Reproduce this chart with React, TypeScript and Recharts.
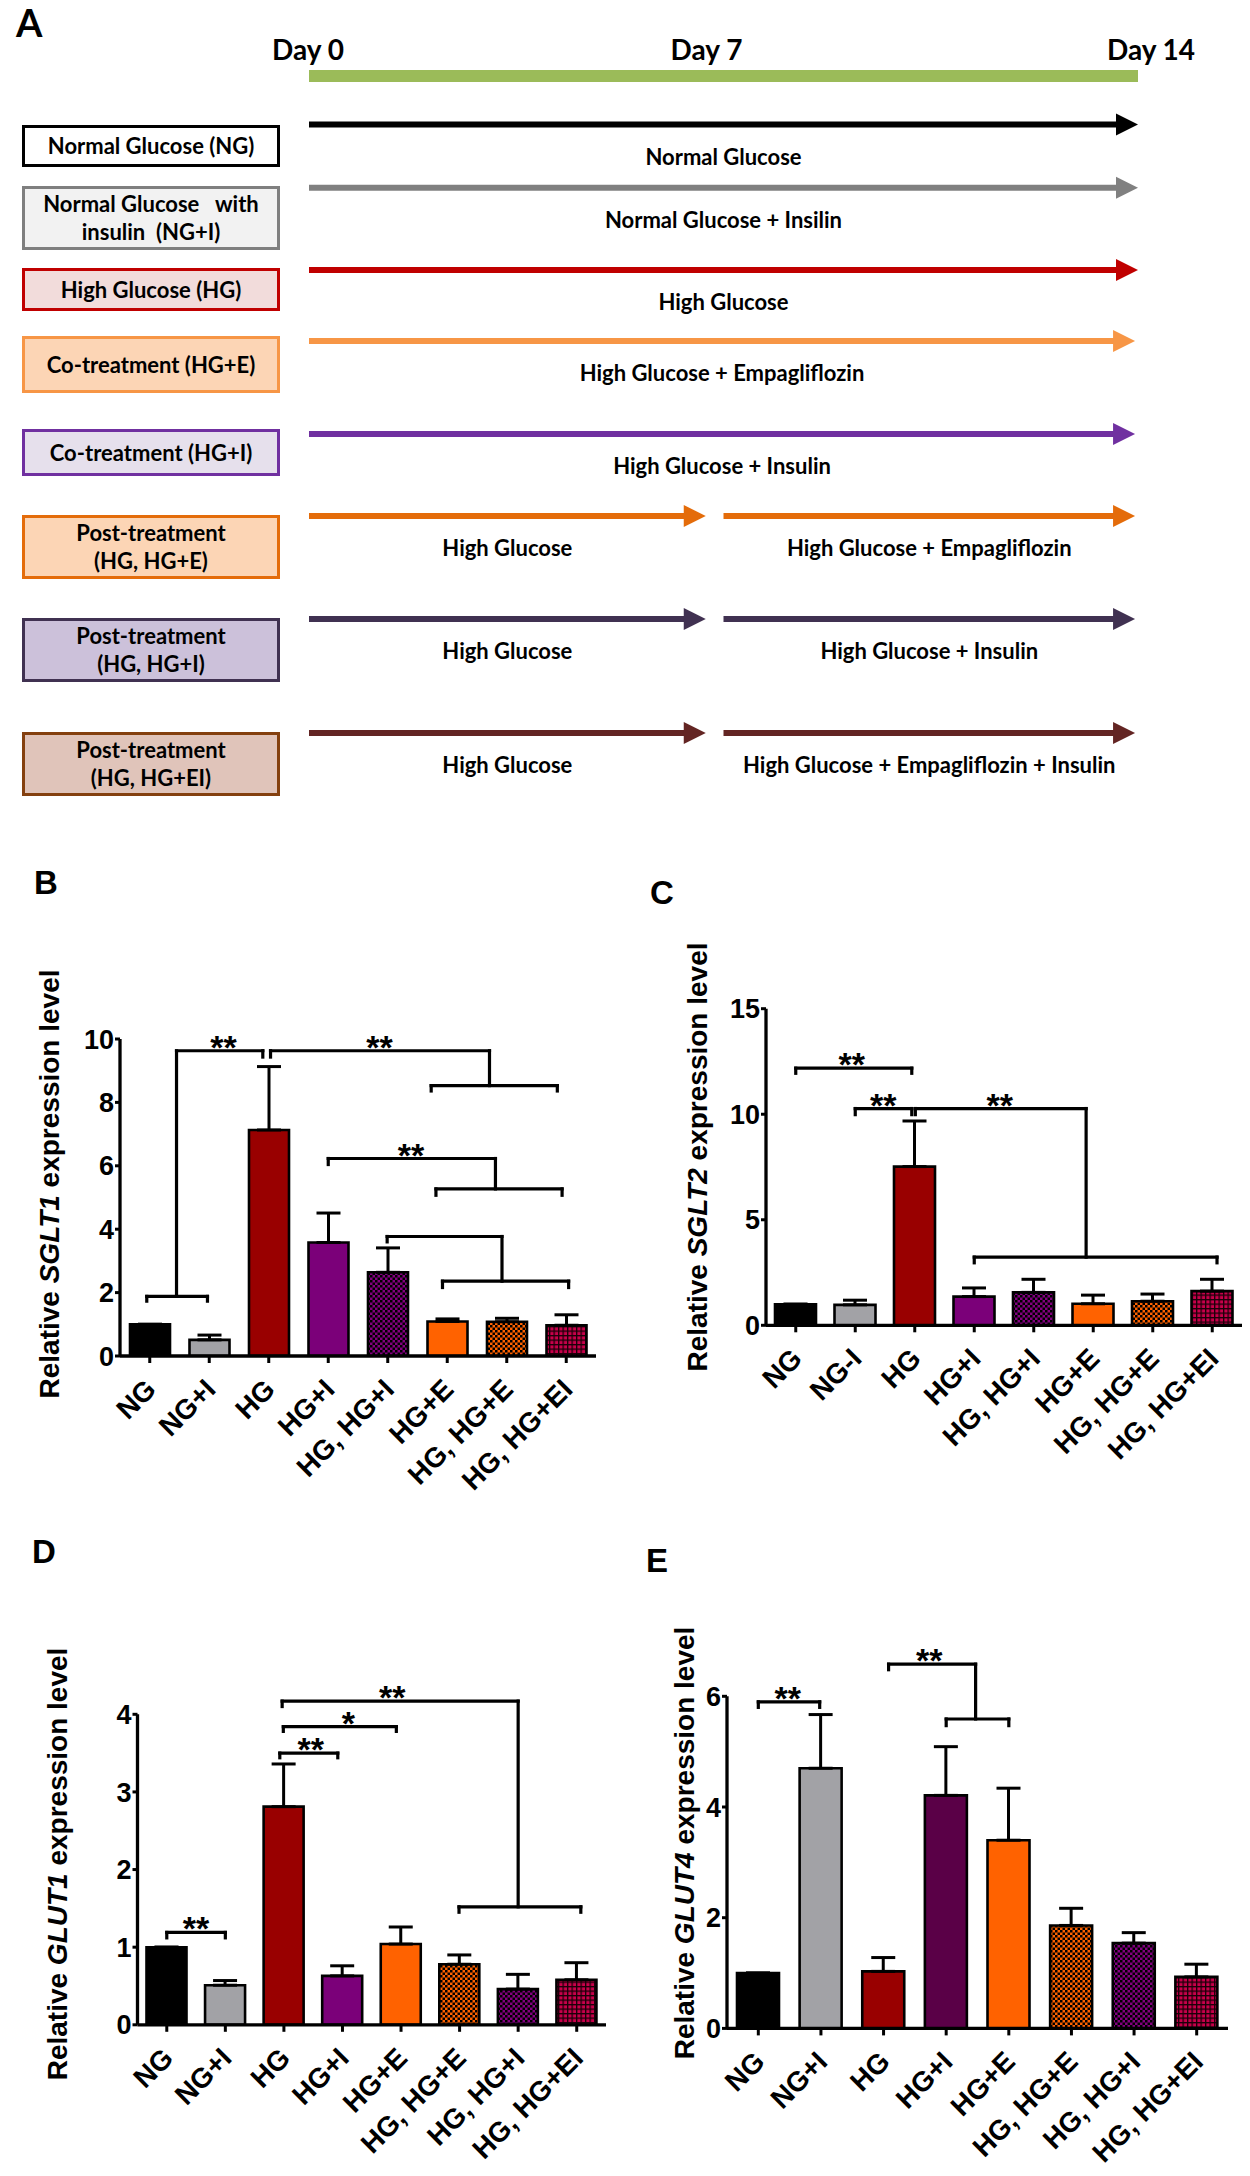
import {
  Bar,
  Cell,
  ComposedChart,
  ErrorBar,
  ReferenceDot,
  ReferenceLine,
  XAxis,
  YAxis,
} from 'recharts'

const ARIAL = '"Liberation Sans", Arial, Helvetica, sans-serif'
const CALIBRI = 'Lato, "Open Sans", "DejaVu Sans", sans-serif'

// ---------- A: treatment schedule ----------
const scheduleDays = [0, 7, 14]

const groupLabels = [
  'Normal Glucose (NG)',
  'Normal Glucose   with\ninsulin  (NG+I)',
  'High Glucose (HG)',
  'Co-treatment (HG+E)',
  'Co-treatment (HG+I)',
  'Post-treatment\n(HG, HG+E)',
  'Post-treatment\n(HG, HG+I)',
  'Post-treatment\n(HG, HG+EI)',
]

const phaseStart = [[0], [0], [0], [0], [0], [0, 7], [0, 7], [0, 7]]
const phaseEnd = [[14], [14], [14], [13.95], [13.95], [6.7, 13.95], [6.7, 13.95], [6.7, 13.95]]
const phaseText = [
  ['Normal Glucose'],
  ['Normal Glucose + Insilin'],
  ['High Glucose'],
  ['High Glucose + Empagliflozin'],
  ['High Glucose + Insulin'],
  ['High Glucose', 'High Glucose + Empagliflozin'],
  ['High Glucose', 'High Glucose + Insulin'],
  ['High Glucose', 'High Glucose + Empagliflozin + Insulin'],
]

// schedule layout (px)
const dayLabelNudge = [-1, -17, 13]
const rowArrowY = [124.6, 187.7, 270, 341, 434, 516, 619, 733]
const rowBoxTop = [124.6, 186, 268, 336, 429, 515, 618, 732]
const rowBoxHeight = [42, 64, 43, 57, 47, 64, 64, 64]
const rowArrowColor = ['#000000', '#808080', '#c00000', '#f79646', '#7030a0', '#e46c0a', '#403151', '#632523']
const rowBoxFill = ['#ffffff', '#f2f2f2', '#f2dcdb', '#fcd5b5', '#e6e0ec', '#fcd5b5', '#ccc1da', '#e0c4ba']
const rowBoxBorder = ['#000000', '#7f7f7f', '#c00000', '#f79646', '#7030a0', '#e46c0a', '#403151', '#84400f']
const SCHEDULE_TOP = 62

function arrowShape(color: string, text: string) {
  return (props: any) => {
    const { x1, y1, x2 } = props
    const head = 22
    return (
      <g>
        <line x1={x1} y1={y1} x2={x2 - head + 2} y2={y1} stroke={color} strokeWidth={6} />
        <polygon points={`${x2},${y1} ${x2 - head},${y1 - 11} ${x2 - head},${y1 + 11}`} fill={color} />
        <text
          x={(x1 + x2) / 2}
          y={y1 + 40}
          textAnchor="middle"
          fontFamily={CALIBRI}
          fontWeight={700}
          fontSize={22}
          fill="#000"
        >
          {text}
        </text>
      </g>
    )
  }
}

function DayTick(props: any) {
  const { x, y, payload, index } = props
  return (
    <text
      x={x + dayLabelNudge[index]}
      y={y}
      textAnchor="middle"
      fontFamily={CALIBRI}
      fontWeight={700}
      fontSize={28}
      fill="#000"
    >
      {`Day ${payload.value}`}
    </text>
  )
}

function Schedule() {
  return (
    <div style={{ position: 'absolute', left: 0, top: 0 }}>
      {groupLabels.map((g, r) => (
        <div
          key={g}
          style={{
            position: 'absolute',
            left: 22,
            top: rowBoxTop[r],
            width: 258,
            height: rowBoxHeight[r],
            boxSizing: 'border-box',
            border: `3px solid ${rowBoxBorder[r]}`,
            background: rowBoxFill[r],
            display: 'flex',
            alignItems: 'center',
            justifyContent: 'center',
            textAlign: 'center',
            whiteSpace: 'pre',
            fontFamily: CALIBRI,
            fontWeight: 700,
            fontSize: 22,
            lineHeight: '28px',
            color: '#000',
          }}
        >
          {g}
        </div>
      ))}
      <ComposedChart
        width={1250}
        height={800}
        data={scheduleDays.map((d) => ({ d }))}
        margin={{ top: 0, right: 112, bottom: 0, left: 309 }}
      >
        <XAxis
          type="number"
          dataKey="d"
          orientation="top"
          domain={[0, 14]}
          ticks={scheduleDays}
          height={SCHEDULE_TOP}
          axisLine={false}
          tickLine={false}
          tickSize={0}
          tickMargin={2}
          allowDataOverflow
          tick={(props: any) => <DayTick {...props} />}
        />
        <YAxis type="number" domain={[0, 800 - SCHEDULE_TOP]} reversed hide allowDataOverflow />
        <ReferenceLine
          segment={[
            { x: 0, y: 76 - SCHEDULE_TOP },
            { x: 14, y: 76 - SCHEDULE_TOP },
          ]}
          stroke="#9bbb59"
          strokeWidth={12}
          ifOverflow="visible"
        />
        {phaseStart.flatMap((starts, r) =>
          starts.map((s, k) => (
            <ReferenceLine
              key={`${r}-${k}`}
              segment={[
                { x: s, y: rowArrowY[r] - SCHEDULE_TOP },
                { x: phaseEnd[r][k], y: rowArrowY[r] - SCHEDULE_TOP },
              ]}
              ifOverflow="visible"
              shape={arrowShape(rowArrowColor[r], phaseText[r][k])}
            />
          )),
        )}
      </ComposedChart>
    </div>
  )
}

// ---------- B-E: expression bar charts ----------
const groupsB = ['NG', 'NG+I', 'HG', 'HG+I', 'HG, HG+I', 'HG+E', 'HG, HG+E', 'HG, HG+EI']
const groupsC = ['NG', 'NG-I', 'HG', 'HG+I', 'HG, HG+I', 'HG+E', 'HG, HG+E', 'HG, HG+EI']
const groupsDE = ['NG', 'NG+I', 'HG', 'HG+I', 'HG+E', 'HG, HG+E', 'HG, HG+I', 'HG, HG+EI']

const sglt1Mean = [1.0, 0.51, 7.13, 3.58, 2.64, 1.09, 1.08, 0.97]
const sglt1Sem = [0, 0.15, 2.0, 0.93, 0.77, 0.08, 0.11, 0.33]
const sglt2Mean = [1.0, 0.97, 7.52, 1.36, 1.56, 1.02, 1.14, 1.62]
const sglt2Sem = [0, 0.22, 2.16, 0.41, 0.62, 0.41, 0.34, 0.56]
const glut1Mean = [1.0, 0.51, 2.81, 0.63, 1.04, 0.78, 0.46, 0.58]
const glut1Sem = [0, 0.06, 0.55, 0.13, 0.22, 0.12, 0.19, 0.22]
const glut4Mean = [1.0, 4.7, 1.03, 4.21, 3.4, 1.86, 1.54, 0.93]
const glut4Sem = [0, 0.97, 0.25, 0.88, 0.94, 0.31, 0.19, 0.23]

const fillsBC = ['ng', 'ngi', 'hg', 'hgi', 'hgiPost', 'hge', 'hgePost', 'hgeiPost']
const fillsD = ['ng', 'ngi', 'hg', 'hgi', 'hge', 'hgePost', 'hgiPost', 'hgeiPost']
const fillsE = ['ng', 'ngi', 'hg', 'hgiDark', 'hge', 'hgePost', 'hgiPost', 'hgeiPost']

type Pt = [number, number]
type Star = { x: number; y: number; t: string }

// significance brackets (category index, value)
const sglt1Brackets: Pt[][] = [
  [[-0.05, 1.73], [-0.05, 1.88], [0.97, 1.88], [0.97, 1.73]],
  [[0.45, 1.88], [0.45, 9.63], [1.9, 9.63], [1.9, 9.43]],
  [[2.03, 9.43], [2.03, 9.63], [5.71, 9.63], [5.71, 8.53]],
  [[4.73, 8.36], [4.73, 8.53], [6.85, 8.53], [6.85, 8.36]],
  [[3.0, 6.04], [3.0, 6.23], [5.81, 6.23], [5.81, 5.27]],
  [[4.81, 5.07], [4.81, 5.27], [6.93, 5.27], [6.93, 5.07]],
  [[3.99, 3.6], [3.99, 3.77], [5.92, 3.77], [5.92, 2.36]],
  [[4.92, 2.16], [4.92, 2.36], [7.04, 2.36], [7.04, 2.16]],
]
const sglt1Stars: Star[] = [
  { x: 1.24, y: 9.63, t: '**' },
  { x: 3.86, y: 9.63, t: '**' },
  { x: 4.39, y: 6.23, t: '**' },
]

const sglt2Brackets: Pt[][] = [
  [[0, 11.94], [0, 12.18], [1.95, 12.18], [1.95, 11.94]],
  [[1.0, 9.98], [1.0, 10.27], [1.95, 10.27], [1.95, 9.98]],
  [[2.01, 9.98], [2.01, 10.27], [4.88, 10.27], [4.88, 3.23]],
  [[3.0, 2.96], [3.0, 3.23], [7.08, 3.23], [7.08, 2.96]],
]
const sglt2Stars: Star[] = [
  { x: 0.94, y: 12.18, t: '**' },
  { x: 1.47, y: 10.27, t: '**' },
  { x: 3.43, y: 10.27, t: '**' },
]

const glut1Brackets: Pt[][] = [
  [[0, 1.12], [0, 1.19], [1.0, 1.19], [1.0, 1.12]],
  [[1.93, 3.44], [1.93, 3.5], [2.92, 3.5], [2.92, 3.44]],
  [[1.99, 3.78], [1.99, 3.84], [3.92, 3.84], [3.92, 3.78]],
  [[1.97, 4.1], [1.97, 4.17], [6.0, 4.17], [6.0, 1.52]],
  [[4.99, 1.45], [4.99, 1.52], [7.07, 1.52], [7.07, 1.45]],
]
const glut1Stars: Star[] = [
  { x: 0.5, y: 1.19, t: '**' },
  { x: 2.46, y: 3.5, t: '**' },
  { x: 3.1, y: 3.84, t: '*' },
  { x: 3.85, y: 4.17, t: '**' },
]

const glut4Brackets: Pt[][] = [
  [[0, 5.8], [0, 5.9], [0.98, 5.9], [0.98, 5.8]],
  [[2.08, 6.48], [2.08, 6.58], [3.47, 6.58], [3.47, 5.59]],
  [[3.0, 5.47], [3.0, 5.59], [4.0, 5.59], [4.0, 5.47]],
]
const glut4Stars: Star[] = [
  { x: 0.47, y: 5.9, t: '**' },
  { x: 2.73, y: 6.58, t: '**' },
]

function fillFor(id: string, key: string) {
  const map: Record<string, string> = {
    ng: '#000000',
    ngi: '#a2a2a6',
    hg: '#990000',
    hgi: '#7b0079',
    hgiDark: '#5a0047',
    hge: '#ff6200',
    hgePost: `url(#${id}-chk-orange)`,
    hgiPost: `url(#${id}-chk-purple)`,
    hgeiPost: `url(#${id}-grid-red)`,
  }
  return map[key]
}

type PanelProps = {
  id: string
  left: number
  top: number
  width: number
  height: number
  margin: { top: number; right: number; bottom: number; left: number }
  groups: string[]
  mean: number[]
  sem: number[]
  fills: string[]
  yMax: number
  yTicks: number[]
  gene: string
  labelX: number
  labelY: number
  barSize: number
  brackets: Pt[][]
  stars: Star[]
}

function BarPanel(p: PanelProps) {
  const data = p.groups.map((g, i) => ({ i, name: g, mean: p.mean[i], err: [0, p.sem[i]] }))
  const idx = p.groups.map((_, i) => i)

  const renderTick = (props: any) => {
    const { x, y, payload } = props
    const tx = x + 8
    const ty = y + 28
    return (
      <text
        x={tx}
        y={ty}
        transform={`rotate(-45 ${tx} ${ty})`}
        textAnchor="end"
        fontFamily={ARIAL}
        fontWeight={700}
        fontSize={28}
        fill="#000"
      >
        {p.groups[payload.value]}
      </text>
    )
  }

  return (
    <div style={{ position: 'absolute', left: p.left, top: p.top }}>
      <ComposedChart width={p.width} height={p.height} data={data} margin={p.margin}>
        <defs>
          <pattern id={`${p.id}-chk-orange`} width={5} height={5} patternUnits="userSpaceOnUse">
            <rect width={5} height={5} fill="#ff6200" />
            <rect width={2.5} height={2.5} fill="#000" />
            <rect x={2.5} y={2.5} width={2.5} height={2.5} fill="#000" />
          </pattern>
          <pattern id={`${p.id}-chk-purple`} width={5} height={5} patternUnits="userSpaceOnUse">
            <rect width={5} height={5} fill="#82007f" />
            <rect width={2.5} height={2.5} fill="#000" />
            <rect x={2.5} y={2.5} width={2.5} height={2.5} fill="#000" />
          </pattern>
          <pattern id={`${p.id}-grid-red`} width={4.5} height={4.5} patternUnits="userSpaceOnUse">
            <rect width={4.5} height={4.5} fill="#c8004a" />
            <rect width={4.5} height={1.3} fill="#1a0008" />
            <rect width={1.3} height={4.5} fill="#1a0008" />
          </pattern>
        </defs>
        <XAxis
          type="number"
          dataKey="i"
          domain={[-0.5, 7.5]}
          ticks={idx}
          interval={0}
          allowDataOverflow
          height={150}
          tickSize={7}
          tickMargin={0}
          axisLine={{ stroke: '#000', strokeWidth: 3.3 }}
          tickLine={{ stroke: '#000', strokeWidth: 3 }}
          tick={renderTick}
        />
        <YAxis
          type="number"
          domain={[0, p.yMax]}
          ticks={p.yTicks}
          interval={0}
          allowDataOverflow
          width={60}
          tickSize={5}
          tickMargin={1}
          axisLine={{ stroke: '#000', strokeWidth: 3.3 }}
          tickLine={{ stroke: '#000', strokeWidth: 3 }}
          tick={{ fill: '#000', fontSize: 27, fontWeight: 700, fontFamily: ARIAL }}
          label={() => (
            <text
              transform={`translate(${p.labelX},${p.labelY}) rotate(-90)`}
              textAnchor="middle"
              dy="0.36em"
              fontFamily={ARIAL}
              fontWeight={700}
              fontSize={28}
              fill="#000"
            >
              {'Relative '}
              <tspan fontStyle="italic">{p.gene}</tspan>
              {' expression level'}
            </text>
          )}
        />
        <Bar dataKey="mean" barSize={p.barSize} stroke="#000" strokeWidth={2.6} isAnimationActive={false}>
          {data.map((d) => (
            <Cell key={d.name} fill={fillFor(p.id, p.fills[d.i])} />
          ))}
          <ErrorBar dataKey="err" direction="y" width={12} stroke="#000" strokeWidth={3} />
        </Bar>
        {p.brackets.flatMap((line, b) =>
          line.slice(1).map((pt, k) => (
            <ReferenceLine
              key={`br-${b}-${k}`}
              segment={[
                { x: line[k][0], y: line[k][1] },
                { x: pt[0], y: pt[1] },
              ]}
              stroke="#000"
              strokeWidth={3.2}
              strokeLinecap="square"
              ifOverflow="visible"
            />
          )),
        )}
        {p.stars.map((s, k) => (
          <ReferenceDot
            key={`st-${k}`}
            x={s.x}
            y={s.y}
            r={0}
            ifOverflow="visible"
            shape={(props: any) => (
              <text
                x={props.cx}
                y={props.cy + 8}
                textAnchor="middle"
                fontFamily={ARIAL}
                fontWeight={700}
                fontSize={34}
                fill="#000"
              >
                {s.t}
              </text>
            )}
          />
        ))}
      </ComposedChart>
    </div>
  )
}

export default function App() {
  return (
    <div
      style={{
        position: 'absolute',
        left: 0,
        top: 0,
        width: 1250,
        height: 2176,
        background: '#fff',
        overflow: 'hidden',
      }}
    >
      <Schedule />
      <BarPanel
        id="b"
        left={0}
        top={840}
        width={620}
        height={700}
        margin={{ top: 199, right: 24, bottom: 34, left: 60 }}
        groups={groupsB}
        mean={sglt1Mean}
        sem={sglt1Sem}
        fills={fillsBC}
        yMax={10}
        yTicks={[0, 2, 4, 6, 8, 10]}
        gene="SGLT1"
        labelX={49}
        labelY={344}
        barSize={40}
        brackets={sglt1Brackets}
        stars={sglt1Stars}
      />
      <BarPanel
        id="c"
        left={620}
        top={840}
        width={630}
        height={700}
        margin={{ top: 168.7, right: 8, bottom: 64.7, left: 86 }}
        groups={groupsC}
        mean={sglt2Mean}
        sem={sglt2Sem}
        fills={fillsBC}
        yMax={15}
        yTicks={[0, 5, 10, 15]}
        gene="SGLT2"
        labelX={77}
        labelY={317}
        barSize={41}
        brackets={sglt2Brackets}
        stars={sglt2Stars}
      />
      <BarPanel
        id="d"
        left={0}
        top={1500}
        width={620}
        height={680}
        margin={{ top: 214.3, right: 14, bottom: 5.2, left: 77.5 }}
        groups={groupsDE}
        mean={glut1Mean}
        sem={glut1Sem}
        fills={fillsD}
        yMax={4}
        yTicks={[0, 1, 2, 3, 4]}
        gene="GLUT1"
        labelX={57}
        labelY={364}
        barSize={40}
        brackets={glut1Brackets}
        stars={glut1Stars}
      />
      <BarPanel
        id="e"
        left={620}
        top={1500}
        width={630}
        height={680}
        margin={{ top: 196.3, right: 22, bottom: 1.6, left: 47 }}
        groups={groupsDE}
        mean={glut4Mean}
        sem={glut4Sem}
        fills={fillsE}
        yMax={6}
        yTicks={[0, 2, 4, 6]}
        gene="GLUT4"
        labelX={64}
        labelY={343}
        barSize={42}
        brackets={glut4Brackets}
        stars={glut4Stars}
      />
      <svg
        width={1250}
        height={2176}
        style={{ position: 'absolute', left: 0, top: 0, pointerEvents: 'none' }}
      >
        <text x={16} y={37} fontFamily={CALIBRI} fontWeight={700} fontSize={38} fill="#000">
          A
        </text>
        <text x={34} y={894} fontFamily={ARIAL} fontWeight={700} fontSize={33} fill="#000">
          B
        </text>
        <text x={650} y={904} fontFamily={ARIAL} fontWeight={700} fontSize={33} fill="#000">
          C
        </text>
        <text x={32} y={1563} fontFamily={ARIAL} fontWeight={700} fontSize={33} fill="#000">
          D
        </text>
        <text x={646} y={1572} fontFamily={ARIAL} fontWeight={700} fontSize={33} fill="#000">
          E
        </text>
      </svg>
    </div>
  )
}
